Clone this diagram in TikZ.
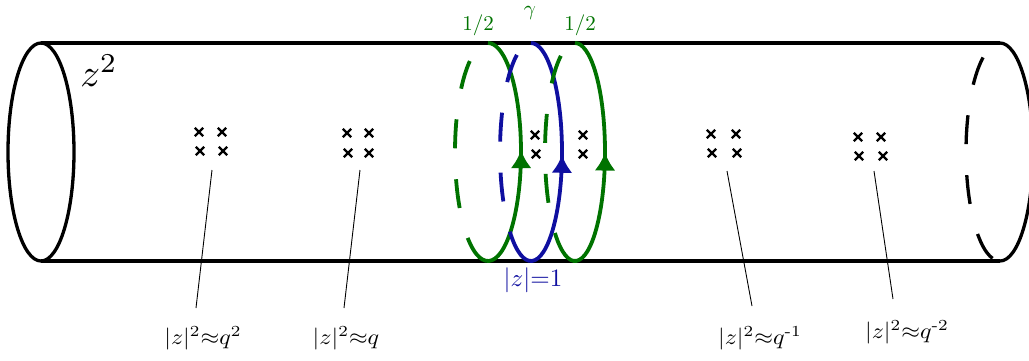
\documentclass[tikz,border=0pt]{standalone}
\usepackage{amsmath}
\usepackage{graphicx}
\usetikzlibrary{arrows.meta,decorations.markings,shapes.misc}
\definecolor{dgreen}{RGB}{0,115,0}
\definecolor{dblue}{RGB}{15,15,160}
\begin{document}
\begin{tikzpicture}[x=1pt,y=-1pt,
  cyl/.style={line width=3.3pt},
  backline/.style={line width=3.3pt, dash pattern=on 29pt off 31pt},
  loopline/.style={line width=3.8pt},
  upmark/.style={postaction={decorate}, decoration={markings,
     mark=at position #1 with {\arrow{Latex[length=18pt,width=21pt]}}}},
  pole/.style={cross out, draw, line width=2.4pt, minimum size=6pt, inner sep=0pt},
  leader/.style={line width=0.9pt},
  lab/.style={inner sep=0pt},
]
\useasboundingbox (0,0) rectangle (1029,360);

% cylinder
\draw[cyl] (41,152) ellipse [x radius=33, y radius=109];
\coordinate (tl) at (41,43);
\coordinate (tr) at (1000,43);
\coordinate (bl) at (41,261);
\coordinate (br) at (1000,261);
\draw[cyl] (tl) -- (tr);
\draw[cyl] (bl) -- (br);
\draw[cyl] (tr) arc[start angle=270, end angle=450, x radius=33, y radius=109];
\draw[backline, dash phase=52pt] (br) arc[start angle=90, end angle=270, x radius=34, y radius=109];

\node[inner sep=0pt] (zz) at (99,71) {\scalebox{3.9}{$z^2$}};

% loops
\draw[backline, line width=3.8pt, dgreen, dash phase=29pt]
  ([shift={(488,152)}]128:33 and 109) arc[start angle=128, end angle=270, x radius=33, y radius=109];
\draw[loopline, dgreen, upmark=154pt]
  ([shift={(488,152)}]128:33 and 109) arc[start angle=488, end angle=270, x radius=33, y radius=109];

\draw[backline, line width=3.8pt, dblue, dash phase=29pt]
  ([shift={(531,152)}]133:31 and 109) arc[start angle=133, end angle=270, x radius=31, y radius=109];
\draw[loopline, dblue, upmark=154pt]
  ([shift={(531,152)}]133:31 and 109) arc[start angle=493, end angle=270, x radius=31, y radius=109];

\draw[backline, line width=3.8pt, dgreen, dash phase=29pt]
  ([shift={(575,152)}]132:30 and 109) arc[start angle=132, end angle=270, x radius=30, y radius=109];
\draw[loopline, dgreen, upmark=154pt]
  ([shift={(575,152)}]132:30 and 109) arc[start angle=492, end angle=270, x radius=30, y radius=109];

\node[dgreen, inner sep=0pt] (h1) at (478,25) {\scalebox{2.1}{$1/2$}};
\node[dgreen, inner sep=0pt] (h2) at (580,25) {\scalebox{2.1}{$1/2$}};
\node[dgreen, inner sep=0pt] (gam) at (530,13) {\scalebox{2.1}{$\gamma$}};
\node[dblue, inner sep=0pt] (unit) at (533,280) {\scalebox{2.5}{$|z|{=}1$}};

% poles
\foreach \n/\x/\y in {a1/199/132, a2/222/132, a3/200/151, a4/223/151,
                      b1/347/133, b2/369/133, b3/348/153, b4/369/153,
                      c1/535/135, c2/583/135, c3/536/154, c4/583/154,
                      d1/711/134, d2/736/134, d3/712/153, d4/737/153,
                      e1/858/137, e2/881/137, e3/859/156, e4/883/156}
  \node[pole] (p\n) at (\x,\y) {};

% leaders and labels
\coordinate (s1) at (212,170); \coordinate (f1) at (196,308);
\coordinate (s2) at (360,170); \coordinate (f2) at (344,308);
\coordinate (s3) at (727,171); \coordinate (f3) at (752,306);
\coordinate (s4) at (874,171); \coordinate (f4) at (893,299);
\draw[leader] (s1) -- (f1);
\draw[leader] (s2) -- (f2);
\draw[leader] (s3) -- (f3);
\draw[leader] (s4) -- (f4);

\node[lab] (L1) at (203,338) {\scalebox{2.4}[2.2]{$|z|^2{\approx}q^2$}};
\node[lab] (L2) at (346,338) {\scalebox{2.4}[2.2]{$|z|^2{\approx}q$}};
\node[lab] (L3) at (760,338) {\scalebox{2.4}[2.2]{$|z|^2{\approx}q^{\text{-}1}$}};
\node[lab] (L4) at (907,332) {\scalebox{2.4}[2.2]{$|z|^2{\approx}q^{\text{-}2}$}};
\end{tikzpicture}
\end{document}
